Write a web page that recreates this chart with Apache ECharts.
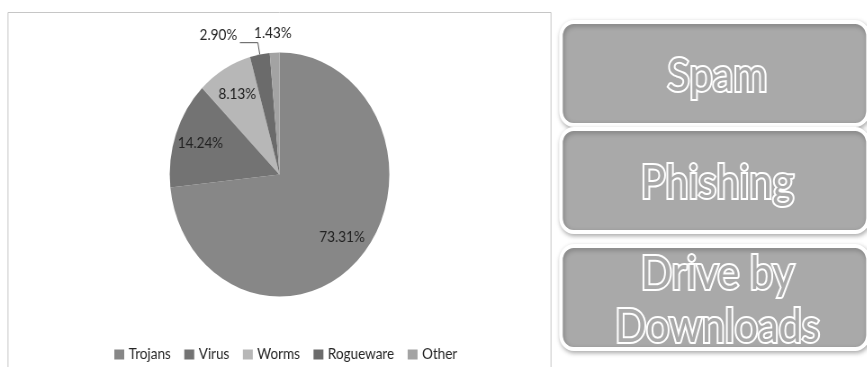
<!DOCTYPE html>
<html>
<head>
<meta charset="utf-8">
<script src="https://cdn.jsdelivr.net/npm/echarts@6/dist/echarts.min.js"></script>
<style>
html,body{margin:0;padding:0;background:#fff;overflow:hidden}
#wrap{width:867px;height:367px;overflow:hidden;position:relative;background:#fff}
#chart{width:963px;height:367px;transform:scaleX(0.9);transform-origin:0 0}
</style>
</head>
<body>
<div id="wrap"><div id="chart"></div></div>
<script>
// ---- data ----
const categories = ['Trojans', 'Virus', 'Worms', 'Rogueware', 'Other'];
const shares = [73.31, 14.24, 8.13, 2.90, 1.43];
const panelLabels = ['Spam', 'Phishing', 'Drive by\nDownloads'];

// ---- chart ----
const chart = echarts.init(document.getElementById('chart'), null, { renderer: 'canvas' });
const FONT = 'Lato, "Open Sans", "Liberation Sans", sans-serif';
const pieCenter = [310.6, 174.5];
const pieR = 122;
const fmt = p => p.value.toFixed(2) + '%';

const innerLabelItems = ['Trojans', 'Virus', 'Worms'];

const mainData = categories.map((n, i) => ({
  name: n, value: shares[i],
  label: { show: n === 'Rogueware' },
  labelLine: { show: n === 'Rogueware' }
}));
const innerData = categories.map((n, i) => ({
  name: n, value: shares[i],
  label: { show: innerLabelItems.indexOf(n) >= 0 }
}));
const otherData = categories.map((n, i) => ({
  name: n, value: shares[i],
  label: { show: n === 'Other' }
}));

const panelTops = [22, 129, 246];
const panelH = 103;
const panelX = 623.3, panelW = 341;
const graphics = [
  { type: 'rect', silent: true, z: 0,
    shape: { x: 8.9, y: 12.5, width: 603.3, height: 420 },
    style: { fill: 'none', stroke: '#c6c6c6', lineWidth: 1 } }
];
panelLabels.forEach((t, i) => {
  graphics.push({
    type: 'rect', silent: true, z: 1,
    shape: { x: panelX, y: panelTops[i], width: panelW, height: panelH, r: 14 },
    style: { fill: '#a9a9a9', stroke: '#ffffff', lineWidth: 4,
      shadowBlur: 5, shadowColor: 'rgba(0,0,0,0.28)', shadowOffsetX: 1, shadowOffsetY: 2 }
  });
  graphics.push({
    type: 'text', silent: true, z: 2,
    x: 797, y: panelTops[i] + panelH / 2 + 3,
    style: {
      text: t, font: '46px ' + FONT, align: 'center', verticalAlign: 'middle',
      lineHeight: 53,
      fill: '#a9a9a9', stroke: '#ffffff', lineWidth: 4, strokeFirst: true,
      shadowBlur: 3, shadowColor: 'rgba(0,0,0,0.45)', shadowOffsetX: 1, shadowOffsetY: 2
    }
  });
});

const option = {
  animation: false,
  backgroundColor: '#ffffff',
  color: ['#878787', '#737373', '#b7b7b7', '#6b6b6b', '#a3a3a3'],
  textStyle: { fontFamily: FONT },
  legend: {
    left: 122, top: 342,
    icon: 'rect', itemWidth: 11, itemHeight: 10, itemGap: 15,
    textStyle: { fontSize: 15, color: '#262626', fontFamily: FONT },
    data: categories
  },
  graphic: graphics,
  series: [
    {
      type: 'pie', name: 'main', center: pieCenter, radius: pieR,
      startAngle: 90, clockwise: true, avoidLabelOverlap: false,
      emphasis: { disabled: true },
      itemStyle: { borderWidth: 0 },
      label: { position: 'outside', formatter: fmt, fontSize: 15, color: '#262626',
        fontFamily: FONT, distanceToLabelLine: 3 },
      labelLine: { length: 12, length2: 20, lineStyle: { color: '#555', width: 1 } },
      labelLayout: { verticalAlign: 'bottom' },
      data: mainData
    },
    {
      type: 'pie', name: 'innerLabels', center: pieCenter, radius: pieR * 1.48,
      startAngle: 90, clockwise: true, silent: true, avoidLabelOverlap: false,
      emphasis: { disabled: true },
      itemStyle: { color: 'rgba(0,0,0,0)', borderWidth: 0 },
      label: { position: 'inside', formatter: fmt, fontSize: 15, color: '#222', fontFamily: FONT },
      labelLine: { show: false },
      data: innerData
    },
    {
      type: 'pie', name: 'otherLabel', center: pieCenter, radius: pieR,
      startAngle: 90, clockwise: true, silent: true, avoidLabelOverlap: false,
      emphasis: { disabled: true },
      itemStyle: { color: 'rgba(0,0,0,0)', borderWidth: 0 },
      label: { position: 'outside', formatter: fmt, fontSize: 15, color: '#262626', fontFamily: FONT },
      labelLine: { show: false },
      labelLayout: function (p) {
        return { x: p.rect.x + 3.5, y: p.rect.y - 19.5, align: 'center', verticalAlign: 'middle' };
      },
      data: otherData
    }
  ]
};
chart.setOption(option);
</script>
</body>
</html>
